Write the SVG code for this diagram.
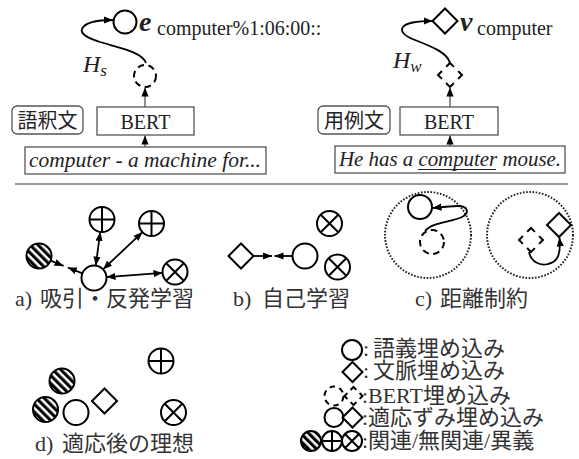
<svg xmlns="http://www.w3.org/2000/svg" xmlns:xlink="http://www.w3.org/1999/xlink" width="579" height="459" viewBox="0 0 579 459">
<style>
.k{fill:none;stroke:#000;stroke-width:2}
.w{fill:#fff;stroke:#000;stroke-width:2}
.dsh{stroke-dasharray:6.5 4.5}
.dot{fill:none;stroke:#222;stroke-width:2;stroke-dasharray:1.6 1.6}
.ln{fill:none;stroke:#000;stroke-width:1.8}
.gl{fill:none;stroke:#555;stroke-width:1.3}
.box{fill:#fff;stroke:#555;stroke-width:1.3}
.t{font-family:"Liberation Serif","Noto Sans CJK JP",serif;fill:#222}
.j{font-family:"Liberation Serif","Noto Sans CJK JP",serif;font-size:22px;fill:#333}
</style>
<defs>
<marker id="ah" viewBox="0 0 10 8" refX="10" refY="4" markerWidth="9" markerHeight="7.5" markerUnits="userSpaceOnUse" orient="auto-start-reverse"><path d="M0,0L10,4L0,8z" fill="#000"/></marker>
<pattern id="hatch" width="5.6" height="5.6" patternUnits="userSpaceOnUse" patternTransform="rotate(-45)"><rect width="3.1" height="5.6" fill="#000"/></pattern>
<g id="s-circ"><circle r="12.5" class="w"/></g>
<g id="s-plus"><circle r="12.5" class="w"/><path d="M0,-12.5V12.5M-12.5,0H12.5" class="k"/></g>
<g id="s-cross"><circle r="12.5" class="w"/><path d="M-8.8,-8.8L8.8,8.8M8.8,-8.8L-8.8,8.8" class="k"/></g>
<g id="s-hatch"><circle r="12.5" fill="url(#hatch)" stroke="#000" stroke-width="2"/></g>
<g id="s-dia"><path d="M0,-12.5L12.5,0L0,12.5L-12.5,0Z" class="w"/></g>
</defs>
<rect width="579" height="459" fill="#fff"/>

<!-- top left -->
<g id="gloss-box"><rect x="12" y="106" width="71" height="28" rx="5" class="box"/><text x="47.5" y="128" class="t" font-size="20" text-anchor="middle" fill="#222">語釈文</text></g>
<g id="bert-left"><rect x="97" y="107" width="97" height="28" class="box"/><text x="145.5" y="129" class="t" font-size="20" text-anchor="middle">BERT</text></g>
<g id="gloss-text"><rect x="25" y="147" width="241" height="27" class="box"/><text x="29" y="167" class="t" font-size="21" font-style="italic" textLength="232" lengthAdjust="spacingAndGlyphs">computer - a machine for...</text></g>
<g id="bert-out-left"><circle cx="145" cy="76" r="11" class="k dsh"/></g>
<g id="sense-emb"><circle cx="125" cy="22" r="11.5" class="w"/><text x="139" y="31" class="t" font-size="28" font-weight="bold" font-style="italic" fill="#000">e</text><text x="157" y="35" class="t" font-size="20" fill="#000">computer%1:06:00::</text></g>
<g id="hs-label"><text x="83" y="72" class="t" font-size="24" font-style="italic" fill="#000">H<tspan font-size="17" dy="4">s</tspan></text></g>

<!-- top right -->
<g id="example-box"><rect x="318" y="106" width="72" height="28" rx="5" class="box"/><text x="354" y="128" class="t" font-size="20" text-anchor="middle">用例文</text></g>
<g id="bert-right"><rect x="400" y="107" width="98" height="28" class="box"/><text x="449" y="129" class="t" font-size="20" text-anchor="middle">BERT</text></g>
<g id="example-text"><rect x="335" y="146" width="230" height="27" class="box"/><text x="339" y="166" class="t" font-size="21" font-style="italic" textLength="222" lengthAdjust="spacingAndGlyphs">He has a computer mouse.</text><line x1="418" y1="169.5" x2="496" y2="169.5" stroke="#222" stroke-width="1.2"/></g>
<g id="bert-out-right"><path d="M450,63L462,75L450,87L438,75Z" fill="#fff" stroke="#000" stroke-width="2" stroke-dasharray="11 6" stroke-dashoffset="5.5"/></g>
<g id="word-emb"><path d="M445,8.5L457.5,21L445,33.5L432.5,21Z" class="w"/><text x="460" y="31" class="t" font-size="28" font-weight="bold" font-style="italic" fill="#000">v</text><text x="477" y="35" class="t" font-size="20" fill="#000">computer</text></g>
<g id="hw-label"><text x="393" y="68" class="t" font-size="24" font-style="italic" fill="#000">H<tspan font-size="17" dy="4">w</tspan></text></g>

<g id="separator"><line x1="15" y1="184" x2="568" y2="184" stroke="#999" stroke-width="2"/></g>

<!-- panel a -->
<g id="a-center"><use href="#s-circ" transform="translate(94,278)"/></g>
<g id="a-hatch"><use href="#s-hatch" transform="translate(39,256)"/></g>
<g id="a-plus1"><use href="#s-plus" transform="translate(102,219.5)"/></g>
<g id="a-plus2"><use href="#s-plus" transform="translate(151.5,223.5)"/></g>
<g id="a-cross"><use href="#s-cross" transform="translate(175,272)"/></g>
<g id="a-label"><text class="j" y="306"><tspan x="15">a)</tspan><tspan x="40">吸引・反発学習</tspan></text></g>

<!-- panel b -->
<g id="b-dia"><use href="#s-dia" transform="translate(241,256)"/></g>
<g id="b-circ"><use href="#s-circ" transform="translate(305,256)"/></g>
<g id="b-cross1"><use href="#s-cross" transform="translate(329.5,223.5)"/></g>
<g id="b-cross2"><use href="#s-cross" transform="translate(337.5,267)"/></g>
<g id="b-label"><text class="j" y="306"><tspan x="233">b)</tspan><tspan x="262">自己学習</tspan></text></g>

<!-- panel c -->
<g id="c-region1"><circle cx="428" cy="235" r="43" class="dot"/></g>
<g id="c-region2"><circle cx="530" cy="235" r="43" class="dot"/></g>
<g id="c-sense"><circle cx="420" cy="207" r="12" class="w"/></g>
<g id="c-bert-circ"><circle cx="432" cy="242" r="12" class="k dsh"/></g>
<g id="c-word"><path d="M559,213L571,225L559,237L547,225Z" class="w"/></g>
<g id="c-bert-dia"><path d="M531,228L543,240L531,252L519,240Z" fill="#fff" stroke="#000" stroke-width="2" stroke-dasharray="11 6" stroke-dashoffset="5.5"/></g>
<g id="c-label"><text class="j" y="306"><tspan x="415">c)</tspan><tspan x="440">距離制約</tspan></text></g>

<!-- panel d -->
<g id="d-hatch1"><use href="#s-hatch" transform="translate(62,381)"/></g>
<g id="d-hatch2"><use href="#s-hatch" transform="translate(45.5,409.5)"/></g>
<g id="d-circ"><use href="#s-circ" transform="translate(76,412.5)"/></g>
<g id="d-dia"><use href="#s-dia" transform="translate(104.5,401)"/></g>
<g id="d-plus"><use href="#s-plus" transform="translate(161,361)"/></g>
<g id="d-cross"><use href="#s-cross" transform="translate(173.5,412.5)"/></g>
<g id="d-label"><text class="j" y="451"><tspan x="35">d)</tspan><tspan x="62">適応後の理想</tspan></text></g>

<!-- legend -->
<g id="legend-sense"><circle cx="352" cy="350" r="10" class="w"/><text class="j" y="356"><tspan x="363">:</tspan><tspan x="373">語義埋め込み</tspan></text></g>
<g id="legend-context"><path d="M352.5,362L362.5,372L352.5,382L342.5,372Z" class="w"/><text class="j" y="378"><tspan x="363">:</tspan><tspan x="373">文脈埋め込み</tspan></text></g>
<g id="legend-bert"><circle cx="334" cy="396" r="9.5" fill="#fff" stroke="#000" stroke-width="2" stroke-dasharray="5.5 4.5"/><path d="M353.5,387L362.5,396L353.5,405L344.5,396Z" fill="#fff" stroke="#000" stroke-width="2" stroke-dasharray="8.2 4.5" stroke-dashoffset="4.1"/><text class="j" y="403"><tspan x="362">:</tspan><tspan x="368">BERT埋め込み</tspan></text></g>
<g id="legend-adapted"><circle cx="334" cy="417.5" r="9.5" class="w"/><path d="M352.5,407.5L362.5,417.5L352.5,427.5L342.5,417.5Z" class="w"/><text class="j" y="425"><tspan x="362">:</tspan><tspan x="368">適応ずみ埋め込み</tspan></text></g>
<g id="legend-rel"><circle cx="311" cy="441" r="10" fill="url(#hatch)" stroke="#000" stroke-width="2"/><circle cx="332" cy="441" r="10" class="w"/><path d="M332,431V451M322,441H342" class="k"/><circle cx="352" cy="441" r="10" class="w"/><path d="M345,434L359,448M359,434L345,448" class="k"/><text class="j" y="448"><tspan x="362">:</tspan><tspan x="368">関連/無関連/異義</tspan></text></g>

<g id="connectors">
<line x1="145" y1="147" x2="145" y2="135.5" class="gl" marker-end="url(#ah)"/>
<line x1="145" y1="107" x2="145" y2="87.5" class="gl" marker-end="url(#ah)"/>
<path d="M146,63C142,52 120,48 100,42C88,38 80,34 82,29C85,22 98,20 113,20" class="ln" marker-end="url(#ah)"/>
<line x1="450" y1="146" x2="450" y2="135.5" class="gl" marker-end="url(#ah)"/>
<line x1="450" y1="107" x2="450" y2="87.5" class="gl" marker-end="url(#ah)"/>
<path d="M450,63C447,52 430,46 415,40C404,36 400,31 403,27C407,22 420,21 432.5,21" class="ln" marker-end="url(#ah)"/>
<line x1="50.6" y1="260.6" x2="63.6" y2="265.9" class="ln" marker-end="url(#ah)"/>
<line x1="82.4" y1="273.4" x2="67.8" y2="267.5" class="ln" marker-end="url(#ah)"/>
<line x1="100.2" y1="232" x2="95.8" y2="265.6" class="ln" marker-start="url(#ah)" marker-end="url(#ah)"/>
<line x1="142.5" y1="232.1" x2="103" y2="269.4" class="ln" marker-start="url(#ah)" marker-end="url(#ah)"/>
<line x1="162.5" y1="272.9" x2="106.5" y2="277.1" class="ln" marker-start="url(#ah)" marker-end="url(#ah)"/>
<line x1="253.5" y1="256" x2="272" y2="256" class="ln" marker-end="url(#ah)"/>
<line x1="292.5" y1="256" x2="274.5" y2="256" class="ln" marker-end="url(#ah)"/>
<path d="M425,231C432,222 452,222 462,217C470,213 468,206 458,206C450,206 442,207 432.5,208" class="ln" marker-end="url(#ah)"/>
<path d="M529,252C531,262 540,266 548,264C558,262 561,254 559.5,237.5" class="ln" marker-end="url(#ah)"/>
</g>
</svg>
